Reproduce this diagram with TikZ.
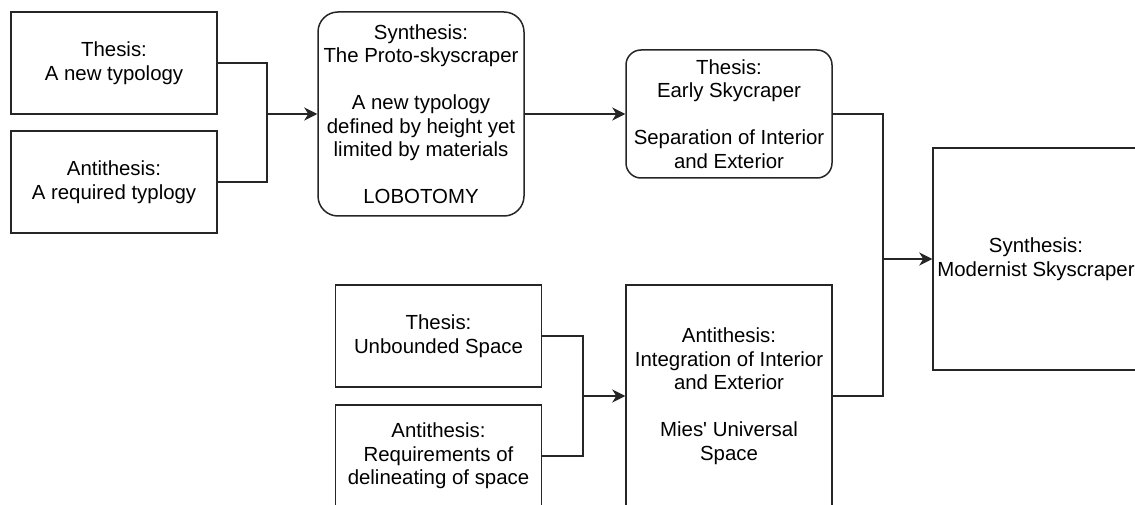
\documentclass[tikz,border=0pt]{standalone}
\usepackage{fontspec}
\setmainfont{Liberation Sans}
\usetikzlibrary{arrows.meta}
\begin{document}
\begin{tikzpicture}[x=1pt,y=-1pt,
  box/.style={draw=black!85, line width=1.5pt, fill=white, inner sep=0pt,
    minimum width=206pt, align=center,
    font=\fontsize{20.4}{23.5}\selectfont},
  rbox/.style={box, rounded corners=#1},
  link/.style={draw=black!85, line width=1.5pt},
  arr/.style={link, -{Stealth[length=13pt,width=13pt,inset=4pt]}}]
\useasboundingbox (0,0) rectangle (1135,505);
\clip (0,0) rectangle (1135,505);
\fill[white] (0,0) rectangle (1135,505);

% first dialectic: proto-skyscraper
\node[box, minimum height=102pt] (t1) at (114,63) {Thesis:\\A new typology};
\node[box, minimum height=102pt] (a1) at (114,182) {Antithesis:\\A required typlogy};
\node[rbox=20pt, minimum height=204pt] (s1) at (421,114)
  {Synthesis:\\The Proto-skyscraper\\[23.5pt]A new typology\\defined by height yet\\limited by materials\\[23.5pt]LOBOTOMY};

% second dialectic
\node[rbox=15pt, minimum height=128pt] (t2) at (729,114)
  {Thesis:\\Early Skycraper\\[23.5pt]Separation of Interior\\and Exterior};
\node[box, minimum height=102pt] (t3) at (438.5,336) {Thesis:\\Unbounded Space};
\node[box, minimum height=102pt] (a3) at (438.5,456) {Antithesis:\\Requirements of\\delineating of space};
\node[box, minimum height=222pt] (a2) at (729,396)
  {Antithesis:\\Integration of Interior\\and Exterior\\[23.5pt]Mies\textquotesingle\ Universal\\Space};
\node[box, minimum height=222pt] (s2) at (1036,259) {Synthesis:\\Modernist Skyscraper};

% junctions
\coordinate (j1) at (267,114);
\coordinate (j2) at (883,259);
\coordinate (j3) at (583,396);

\draw[link] (t1.east) -| (j1);
\draw[link] (a1.east) -| (j1);
\draw[arr] (j1) -- (s1.west);
\draw[arr] (s1.east) -- (t2.west);

\draw[link] (t3.east) -| (j3);
\draw[link] (a3.east) -| (j3);
\draw[arr] (j3) -- (a2.west);

\draw[link] (t2.east) -| (j2);
\draw[link] (a2.east) -| (j2);
\draw[arr] (j2) -- (s2.west);
\end{tikzpicture}
\end{document}
